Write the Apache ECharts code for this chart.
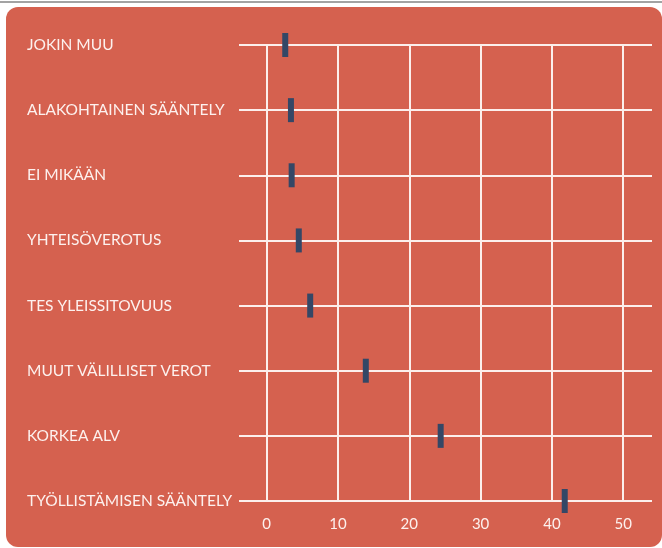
<!DOCTYPE html>
<html>
<head>
<meta charset="utf-8">
<script src="https://cdn.jsdelivr.net/npm/echarts@6/dist/echarts.min.js"></script>
<style>
  html, body { margin: 0; padding: 0; background: #fff; }
  #chart { width: 662px; height: 548px; }
</style>
</head>
<body>
<div id="chart"></div>
<script>
// kategoriat ylhäältä alas
const categories = [
  'JOKIN MUU',
  'ALAKOHTAINEN SÄÄNTELY',
  'EI MIKÄÄN',
  'YHTEISÖVEROTUS',
  'TES YLEISSITOVUUS',
  'MUUT VÄLILLISET VEROT',
  'KORKEA ALV',
  'TYÖLLISTÄMISEN SÄÄNTELY'
]
const values = [2.6, 3.4, 3.5, 4.5, 6.1, 13.9, 24.4, 41.8]
const xTicks = [0, 10, 20, 30, 40, 50]

const bg = '#d5614f'
const lineColor = '#fcefec'
const textColor = '#fdf1ee'
const markColor = '#344766'

const myChart = echarts.init(document.getElementById('chart'))

const option = {
  backgroundColor: '#fff',
  animation: false,
  graphic: [
    { type: 'rect', left: 0, top: 1, shape: { width: 662, height: 2 }, style: { fill: '#a3a3a3' } },
    { type: 'rect', left: 6, top: 7, shape: { width: 656, height: 540, r: 12 }, style: { fill: bg }, z: -10 }
  ],
  grid: [
    // horisontaaliset viivat + nimet
    { left: 239, right: 10, top: 45, bottom: 47 },
    // pystyviivat + arvot
    { left: 266.7, right: 38.8, top: 45, bottom: 47 }
  ],
  xAxis: [
    { gridIndex: 0, type: 'value', show: false },
    {
      gridIndex: 1, type: 'value',
      min: xTicks[0], max: xTicks[xTicks.length - 1], interval: 10,
      axisLine: { show: false },
      axisTick: { show: false },
      splitLine: { show: true, lineStyle: { color: lineColor, width: 2 } },
      axisLabel: { color: textColor, fontSize: 15, fontFamily: 'Lato', margin: 16 }
    }
  ],
  yAxis: [
    {
      gridIndex: 0, type: 'category', data: categories,
      inverse: true, boundaryGap: false,
      axisLine: { show: false },
      axisTick: { show: false },
      splitLine: { show: true, lineStyle: { color: lineColor, width: 2 } },
      axisLabel: { color: textColor, fontSize: 15.5, fontFamily: 'Lato', align: 'left', margin: 212 }
    },
    {
      gridIndex: 1, type: 'category', data: categories,
      inverse: true, boundaryGap: false, show: false
    }
  ],
  series: [
    {
      type: 'scatter',
      xAxisIndex: 1, yAxisIndex: 1,
      symbol: 'rect',
      symbolSize: [6, 24],
      itemStyle: { color: markColor, opacity: 1 },
      data: values,
      z: 5
    }
  ]
}

myChart.setOption(option)
</script>
</body>
</html>
